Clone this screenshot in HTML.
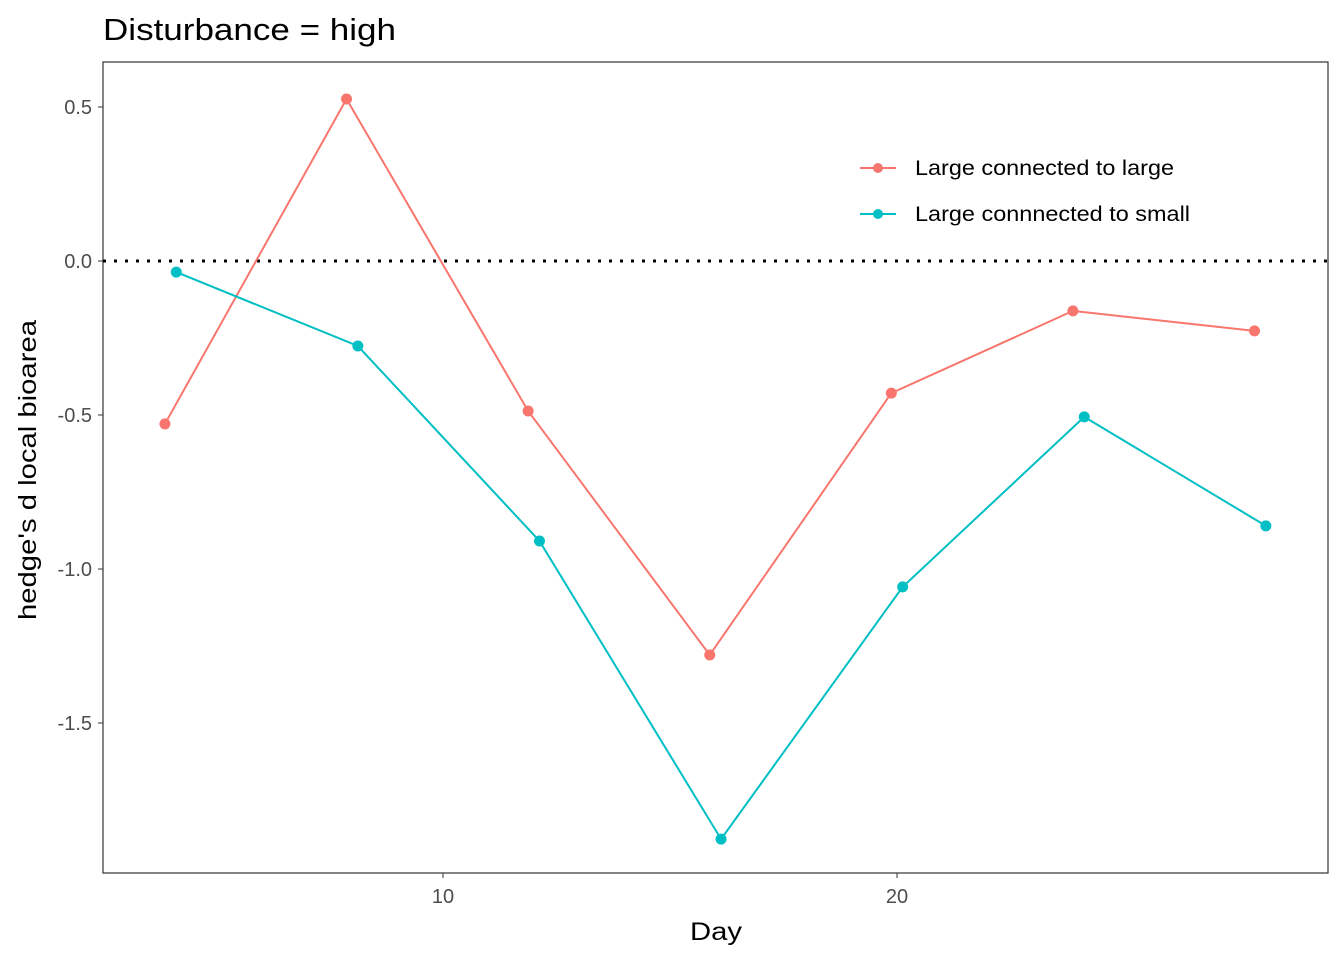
<!DOCTYPE html>
<html><head><meta charset="utf-8"><style>body{margin:0;background:#fff}svg{display:block;font-family:"Liberation Sans",Arial,sans-serif}</style></head>
<body>
<svg id="chart" width="1344" height="960">
<text x="103" y="40" font-size="31" textLength="293" lengthAdjust="spacingAndGlyphs" fill="#000">Disturbance = high</text>
<rect x="103" y="62" width="1225" height="811" fill="none" stroke="#333" stroke-width="1.2"/>
<g id="yticks"></g><g id="xticks"></g>
<line id="zero" stroke="#000" stroke-width="3" stroke-dasharray="3,8"/>
<g id="series"></g>
<text x="716" y="940" font-size="25" textLength="52" lengthAdjust="spacingAndGlyphs" text-anchor="middle">Day</text>
<text transform="translate(36,470) rotate(-90)" font-size="25" textLength="300" lengthAdjust="spacingAndGlyphs" text-anchor="middle">hedge's d local bioarea</text>
<g>
<line x1="860" y1="168" x2="896" y2="168" stroke="#F8766D" stroke-width="2"/><circle cx="878" cy="168" r="5" fill="#F8766D"/>
<text x="915" y="175" font-size="21" textLength="259" lengthAdjust="spacingAndGlyphs">Large connected to large</text>
<line x1="860" y1="214" x2="896" y2="214" stroke="#00BFC4" stroke-width="2"/><circle cx="878" cy="214" r="5" fill="#00BFC4"/>
<text x="915" y="221" font-size="21" textLength="275" lengthAdjust="spacingAndGlyphs">Large connnected to small</text>
</g>
</svg>
<script>
const days=[4,8,12,16,20,24,28];
const largeToLarge=[-0.529,0.526,-0.487,-1.279,-0.429,-0.162,-0.227];
const largeToSmall=[-0.036,-0.276,-0.909,-1.877,-1.058,-0.506,-0.860];
const yTicks=[0.5,0.0,-0.5,-1.0,-1.5];
const yTickLabels=["0.5","0.0","-0.5","-1.0","-1.5"];
const xTicks=[10,20];
const NS="http://www.w3.org/2000/svg";
const sx=d=>443+(d-10)*45.4;
const sy=v=>261-v*308;
function mk(t,a,p){const e=document.createElementNS(NS,t);for(const k in a)e.setAttribute(k,a[k]);p.appendChild(e);return e;}
const yt=document.getElementById('yticks');
yTicks.forEach((v,i)=>{const l=mk('line',{x1:98,x2:103,y1:sy(v),y2:sy(v),stroke:'#333'},yt);


const t=mk('text',{x:92,y:sy(v)+7,'font-size':20,'text-anchor':'end',fill:'#4d4d4d'},yt);t.textContent=yTickLabels[i];

});
const xt=document.getElementById('xticks');
xTicks.forEach(d=>{const l=mk('line',{x1:sx(d),x2:sx(d),y1:873,y2:878,stroke:'#333'},xt);


const t=mk('text',{x:sx(d),y:903,'font-size':20,'text-anchor':'middle',fill:'#4d4d4d'},xt);t.textContent=d;

});
const z=document.getElementById('zero');z.setAttribute('x1',103);z.setAttribute('x2',1328);z.setAttribute('y1',sy(0));z.setAttribute('y2',sy(0));
const g=document.getElementById('series');
[[largeToLarge,'#F8766D',-0.125,'large-to-large'],[largeToSmall,'#00BFC4',0.125,'large-to-small']].forEach(([vals,c,dx,n])=>{
const pts=vals.map((v,i)=>sx(days[i]+dx)+','+sy(v)).join(' ');
const pl=mk('polyline',{points:pts,fill:'none',stroke:c,'stroke-width':2},g);


vals.forEach((v,i)=>{const p=mk('circle',{cx:sx(days[i]+dx),cy:sy(v),r:5.5,fill:c},g);

});});
</script>
</body></html>
